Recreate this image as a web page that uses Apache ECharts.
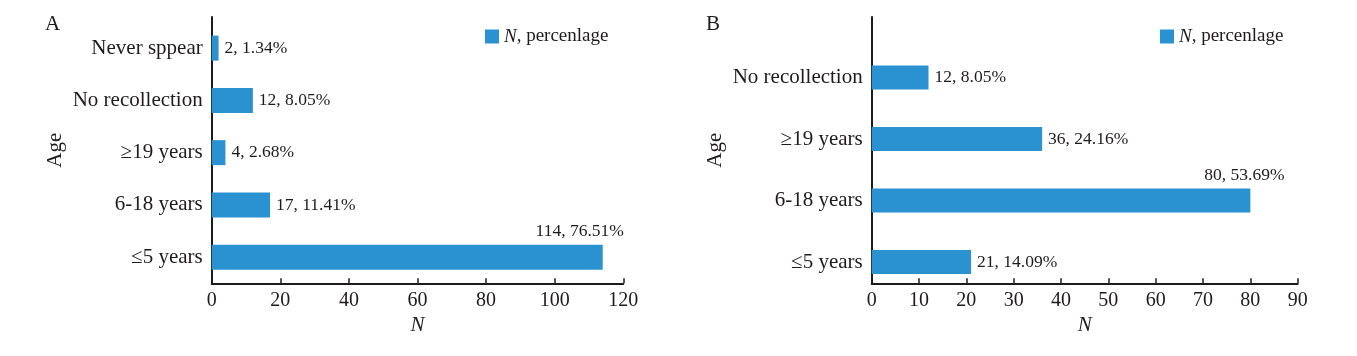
<!DOCTYPE html>
<html><head><meta charset="utf-8">
<script src="https://cdn.jsdelivr.net/npm/echarts@6/dist/echarts.min.js"></script>
<style>html,body{margin:0;padding:0;background:#fff}#c{width:1357px;height:356px}</style>
</head><body><div id="c"></div>
<script>
// Panel A (categories listed bottom to top)
const catsA = ['≤5 years', '6-18 years', '≥19 years', 'No recollection', 'Never sppear'];
const countsA = [114, 17, 4, 12, 2];
const pctsA = [76.51, 11.41, 2.68, 8.05, 1.34];
const ticksA = [0, 20, 40, 60, 80, 100, 120];
// Panel B
const catsB = ['≤5 years', '6-18 years', '≥19 years', 'No recollection'];
const countsB = [21, 80, 36, 12];
const pctsB = [14.09, 53.69, 24.16, 8.05];
const ticksB = [0, 10, 20, 30, 40, 50, 60, 70, 80, 90];
const seriesName = 'N, percenlage';

const FONT = "'Liberation Serif','Times New Roman',serif";
const INK = '#1e1b1c';
const BAR = '#2b92d1';

function makeData(counts, pcts, topOffset) {
  const maxIdx = counts.indexOf(Math.max(...counts));
  return counts.map((v, i) => {
    const item = { value: v, pct: pcts[i] };
    if (i === maxIdx) {
      item.label = { position: ['100%', 0], align: 'center', verticalAlign: 'bottom', offset: [topOffset, -4] };
    }
    return item;
  });
}

function axisPair(gi, ticks) {
  const min = ticks[0], max = ticks[ticks.length - 1], interval = ticks[1] - ticks[0];
  return [
    {
      gridIndex: gi, type: 'value', min, max, interval,
      axisLine: { show: true, lineStyle: { color: INK, width: 2 } },
      axisTick: { show: true, inside: true, length: 5, lineStyle: { color: INK, width: 1.5 } },
      axisLabel: { fontFamily: FONT, fontSize: 20, color: INK, margin: 7 },
      splitLine: { show: false },
      name: 'N', nameLocation: 'middle', nameGap: 30,
      nameTextStyle: { fontFamily: FONT, fontSize: 21, fontStyle: 'italic', color: INK }
    },
    {
      gridIndex: gi + 1, type: 'value', min, max, interval, show: false
    }
  ];
}

function yPair(gi, cats) {
  return [
    {
      gridIndex: gi, type: 'value', min: 0, max: 1,
      axisLine: { show: true, lineStyle: { color: INK, width: 2 } },
      axisTick: { show: false }, axisLabel: { show: false }, splitLine: { show: false },
      name: 'Age', nameLocation: 'middle', nameRotate: 90, nameGap: 146,
      nameTextStyle: { fontFamily: FONT, fontSize: 21, color: INK }
    },
    {
      gridIndex: gi + 1, type: 'category', data: cats,
      axisLine: { show: false }, axisTick: { show: false },
      axisLabel: { fontFamily: FONT, fontSize: 21, color: INK, margin: 9 }
    }
  ];
}

const labelCfg = {
  show: true, position: 'right', distance: 6,
  fontFamily: FONT, fontSize: 17.5, color: INK,
  formatter: p => p.data.value + ', ' + p.data.pct.toFixed(2) + '%'
};

const legendBase = {
  data: [seriesName], orient: 'horizontal', padding: 0,
  itemWidth: 14, itemHeight: 14, itemGap: 5, icon: 'rect',
  formatter: () => '{i|N}, percenlage',
  textStyle: { fontFamily: FONT, fontSize: 19, color: INK,
    rich: { i: { fontFamily: FONT, fontSize: 19, fontStyle: 'italic', color: INK } } }
};

const option = {
  backgroundColor: '#fff',
  animation: false,
  title: [
    { text: 'A', left: 40, top: 9, textStyle: { fontFamily: FONT, fontSize: 21, fontWeight: 'normal', color: INK } },
    { text: 'B', left: 701, top: 9, textStyle: { fontFamily: FONT, fontSize: 21, fontWeight: 'normal', color: INK } }
  ],
  legend: [
    Object.assign({}, legendBase, { left: 485, top: 27 }),
    Object.assign({}, legendBase, { left: 1160, top: 27 })
  ],
  grid: [
    { left: 211.7, top: 17, width: 411.6, height: 266.3, containLabel: false },
    { left: 211.7, top: 22, width: 411.6, height: 261.3, containLabel: false },
    { left: 871.7, top: 17, width: 426, height: 266.3, containLabel: false },
    { left: 871.7, top: 46.75, width: 426, height: 246, containLabel: false }
  ],
  xAxis: [...axisPair(0, ticksA), ...axisPair(2, ticksB)],
  yAxis: [...yPair(0, catsA), ...yPair(2, catsB)],
  series: [
    { name: seriesName, type: 'bar', xAxisIndex: 1, yAxisIndex: 1, barWidth: 25,
      itemStyle: { color: BAR }, label: labelCfg, data: makeData(countsA, pctsA, -23) },
    { name: seriesName, type: 'bar', xAxisIndex: 3, yAxisIndex: 3, barWidth: 24,
      itemStyle: { color: BAR }, label: labelCfg, data: makeData(countsB, pctsB, -6) }
  ]
};
const chart = echarts.init(document.getElementById('c'), null, { renderer: 'canvas' });
chart.setOption(option);
</script>
</body></html>
